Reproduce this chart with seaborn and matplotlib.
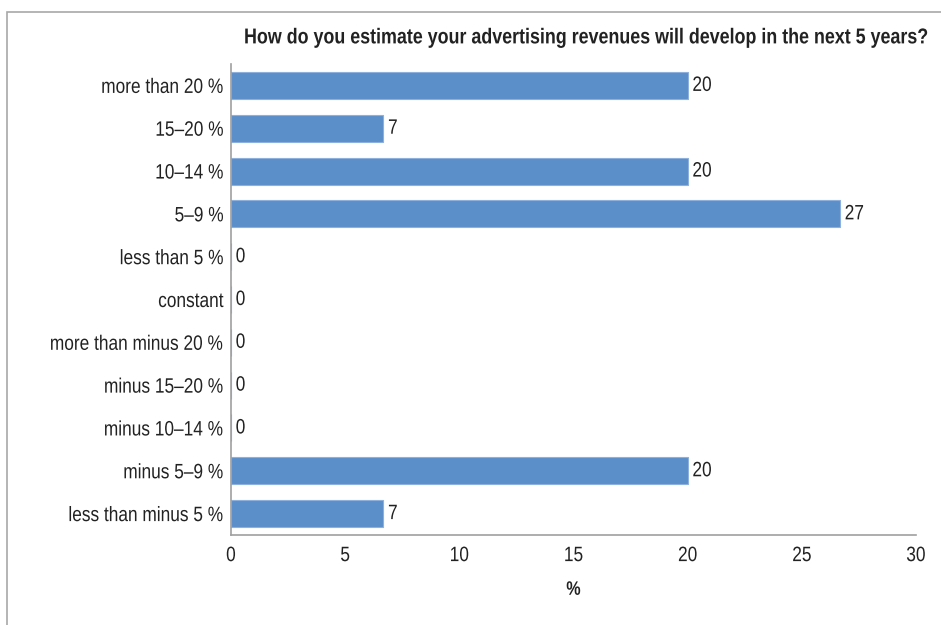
import matplotlib
matplotlib.use("Agg")
import matplotlib.pyplot as plt
import matplotlib.font_manager as fm
from matplotlib.patches import Rectangle
from matplotlib.patheffects import AbstractPathEffect
from matplotlib.transforms import Affine2D
import seaborn as sns
import pandas as pd

categories = [
    "more than 20 %", "15\u201320 %", "10\u201314 %", "5\u20139 %",
    "less than 5 %", "constant", "more than minus 20 %",
    "minus 15\u201320 %", "minus 10\u201314 %", "minus 5\u20139 %",
    "less than minus 5 %",
]
shares = [20.0, 6.67, 20.0, 26.67, 0, 0, 0, 0, 0, 20.0, 6.67]
x_ticks = [0, 5, 10, 15, 20, 25, 30]


class Condensed(AbstractPathEffect):
    """Rescale glyph outlines (narrow look) about a horizontal anchor."""

    def __init__(self, sx=0.82, anchor="left", sy=1.0):
        super().__init__()
        self.sx = sx
        self.sy = sy
        self.anchor = anchor

    def draw_path(self, renderer, gc, tpath, affine, rgbFace=None):
        ext = tpath.get_extents()
        if self.anchor == "right":
            px = ext.x1
        elif self.anchor == "center":
            px = 0.5 * (ext.x0 + ext.x1)
        else:
            px = ext.x0
        py = 0.5 * (ext.y0 + ext.y1)
        squeeze = (Affine2D().translate(-px, -py)
                   .scale(self.sx, self.sy).translate(px, py))
        renderer.draw_path(gc, tpath, squeeze + affine, rgbFace)


names = {f.name for f in fm.fontManager.ttflist}
family = ["Liberation Sans", "DejaVu Sans"]
family = [f for f in family if f in names] or ["DejaVu Sans"]

sns.set_style("white")
plt.rcParams["font.family"] = family

TXT = "#222222"
SQ = 0.83

df = pd.DataFrame({"category": categories, "share": shares})

fig = plt.figure(figsize=(9.41, 6.25), dpi=100)
W, H = 941, 625
ax = fig.add_axes([231 / W, 1 - 535 / H, (916 - 231) / W, (535 - 64) / H])

sns.barplot(data=df, x="share", y="category", orient="h", ax=ax,
            color="#5b8fca", saturation=1, width=0.63,
            edgecolor="#8db0dc", linewidth=0.8)

for i, v in enumerate(shares):
    ax.text(v + 0.2, i, f"{v:.0f}", va="center", ha="left",
            fontsize=15, color=TXT,
            path_effects=[Condensed(SQ, "left")])

ax.set_xlim(0, 30)
ax.set_ylim(len(categories) - 0.5, -0.5)
ax.set_xticks(x_ticks)
ax.set_xticklabels([str(t) for t in x_ticks])
ax.set_yticks([i - 0.5 for i in range(len(categories) + 1)], minor=True)
ax.set_yticks(range(len(categories)))
ax.set_yticklabels(categories)
ax.tick_params(axis="y", which="major", length=0, pad=5, labelsize=15,
               labelcolor=TXT)
ax.tick_params(axis="y", which="minor", length=5, color="#a0a0a0",
               direction="out", width=1)
ax.tick_params(axis="x", which="major", length=5, color="#a0a0a0",
               direction="out", width=1, pad=3, labelsize=15,
               labelcolor=TXT)
for t in ax.get_yticklabels():
    t.set_path_effects([Condensed(SQ, "right")])
for t in ax.get_xticklabels():
    t.set_path_effects([Condensed(SQ, "center")])

ax.set_xlabel("%", fontsize=14, fontweight="bold", labelpad=12, color=TXT,
              path_effects=[Condensed(SQ, "center")])
ax.set_ylabel("")
for side in ["top", "right"]:
    ax.spines[side].set_visible(False)
for side in ["left", "bottom"]:
    ax.spines[side].set_color("#a0a0a0")
    ax.spines[side].set_linewidth(1.2)
ax.grid(False)

# Title set at a smaller nominal size, then stretched vertically so the
# glyphs come out tall and narrow.
fig.text(585 / W, 1 - 38 / H,
         "How do you estimate your advertising revenues will develop in the next 5 years?",
         ha="center", va="center", fontsize=13, fontweight="bold",
         color=TXT,
         path_effects=[Condensed(SQ * 15.5 / 13, "center", 15.5 / 13)])

fig.patches.append(Rectangle((7 / W, -0.1), 1.2, 1 - 12 / H + 0.1,
                             transform=fig.transFigure, fill=False,
                             edgecolor="#a8a8a8", linewidth=1.2))

fig.savefig("out.png", dpi=100, facecolor="white")
